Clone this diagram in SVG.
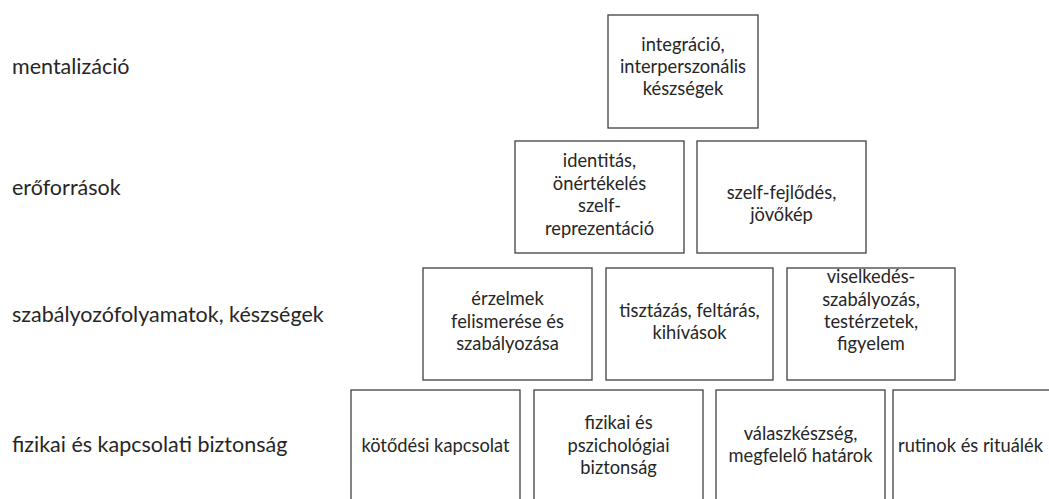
<svg xmlns="http://www.w3.org/2000/svg" width="1049" height="499" viewBox="0 0 1049 499">
<style>
.bx{fill:#fff;stroke:#404040;stroke-width:1.3}
text{font-family:Lato,"Open Sans","Liberation Sans",sans-serif;fill:#262626}
.lbl{font-size:21.5px}
.t{font-size:18.3px;text-anchor:middle}
</style>
<rect width="1049" height="499" fill="#fff"/>
<g id="labels">
<text class="lbl" x="12" y="74">mentalizáció</text>
<text class="lbl" x="12" y="195">erőforrások</text>
<text class="lbl" x="12" y="322">szabályozófolyamatok, készségek</text>
<text class="lbl" x="12" y="452">fizikai és kapcsolati biztonság</text>
</g>
<g id="connectors"></g>
<g id="n1"><rect class="bx" x="608" y="15" width="150" height="113"/>
<text class="t" x="683" y="51">integráció,</text><text class="t" x="683" y="73">interperszonális</text><text class="t" x="683" y="95">készségek</text></g>
<g id="n2"><rect class="bx" x="515" y="141" width="169" height="112"/>
<text class="t" x="599.5" y="167">identitás,</text><text class="t" x="599.5" y="190">önértékelés</text><text class="t" x="599.5" y="212">szelf-</text><text class="t" x="599.5" y="235">reprezentáció</text></g>
<g id="n3"><rect class="bx" x="697" y="141" width="169" height="112"/>
<text class="t" x="781.5" y="199">szelf-fejlődés,</text><text class="t" x="781.5" y="221">jövőkép</text></g>
<g id="n4"><rect class="bx" x="423" y="268" width="169" height="112"/>
<text class="t" x="507.5" y="305">érzelmek</text><text class="t" x="507.5" y="328">felismerése  és</text><text class="t" x="507.5" y="350">szabályozása</text></g>
<g id="n5"><rect class="bx" x="606" y="268" width="167" height="112"/>
<text class="t" x="689.5" y="317">tisztázás, feltárás,</text><text class="t" x="689.5" y="339">kihívások</text></g>
<g id="n6"><rect class="bx" x="787" y="268" width="168" height="112"/>
<text class="t" x="871" y="283">viselkedés-</text><text class="t" x="871" y="306">szabályozás,</text><text class="t" x="871" y="328">testérzetek,</text><text class="t" x="871" y="350">figyelem</text></g>
<g id="n7"><rect class="bx" x="351" y="390" width="169" height="112"/>
<text class="t" x="435.5" y="452">kötődési kapcsolat</text></g>
<g id="n8"><rect class="bx" x="534" y="390" width="169" height="112"/>
<text class="t" x="618.5" y="429">fizikai és</text><text class="t" x="618.5" y="452">pszichológiai</text><text class="t" x="618.5" y="474">biztonság</text></g>
<g id="n9"><rect class="bx" x="716" y="390" width="169" height="112"/>
<text class="t" x="800.5" y="440">válaszkészség,</text><text class="t" x="800.5" y="462">megfelelő  határok</text></g>
<g id="n10"><rect class="bx" x="893" y="390" width="169" height="112"/>
<text class="t" x="898" y="452" style="text-anchor:start">rutinok és rituálék</text></g>
</svg>
